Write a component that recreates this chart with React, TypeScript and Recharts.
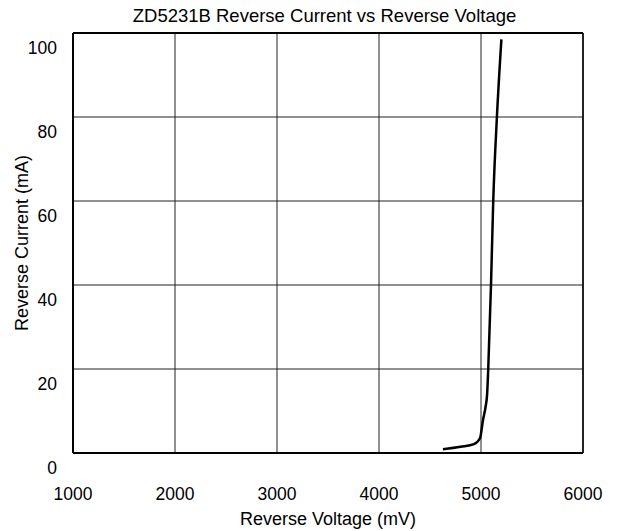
import { LineChart, Line, XAxis, YAxis, CartesianGrid, ReferenceLine } from 'recharts';

// reverse voltage (mV) vs reverse current (mA)
const voltage = [4627, 4800, 4931, 4990, 5020, 5045, 5060, 5071, 5098, 5120, 5156, 5200];
const current = [0.9, 1.5, 2.1, 3.5, 7.9, 11, 14, 20, 40, 60, 80, 98.5];

const xTicks = [1000, 2000, 3000, 4000, 5000, 6000];
const yTicks = [0, 20, 40, 60, 80, 100];

const data = voltage.map((v, i) => ({ v, i: current[i] }));

const FONT = '"Liberation Sans", Arial, sans-serif';

const YTick = ({ x, y, payload }: any) => (
  <text x={x} y={y + 15} textAnchor="end" dominantBaseline="central" fontSize={17.5} fontFamily={FONT} fill="#000">
    {payload.value}
  </text>
);

const XTick = ({ x, y, payload }: any) => (
  <text x={x} y={y + 41} textAnchor="middle" dominantBaseline="central" fontSize={17.5} fontFamily={FONT} fill="#000">
    {payload.value}
  </text>
);

const App = () => {
  return (
    <div style={{ position: 'relative', width: 625, height: 531, background: '#fff' }}>
      <style>{`body{margin:0}`}</style>
      <div
        style={{
          position: 'absolute',
          top: 7,
          left: 12,
          width: 625,
          textAlign: 'center',
          fontFamily: FONT,
          fontSize: 18.5,
          lineHeight: 1,
          color: '#000',
          whiteSpace: 'nowrap',
        }}
      >
        ZD5231B Reverse Current vs Reverse Voltage
      </div>
      <LineChart width={625} height={531} data={data} margin={{ top: 33, right: 42, bottom: 0, left: 13 }}>
        <CartesianGrid stroke="#222" strokeWidth={1} />
        <XAxis
          dataKey="v"
          type="number"
          domain={[1000, 6000]}
          ticks={xTicks}
          tick={<XTick />}
          tickSize={0}
          tickMargin={0}
          height={78}
          axisLine={{ stroke: '#000', strokeWidth: 2 }}
          label={{ value: 'Reverse Voltage (mV)', position: 'insideBottom', offset: 6, fontSize: 18, fontFamily: FONT, fill: '#000' }}
        />
        <YAxis
          type="number"
          domain={[0, 100]}
          ticks={yTicks}
          tick={<YTick />}
          tickSize={0}
          tickMargin={16}
          width={60}
          axisLine={{ stroke: '#000', strokeWidth: 2 }}
          label={{
            value: 'Reverse Current (mA)',
            angle: -90,
            position: 'insideLeft',
            offset: 9,
            fontSize: 18,
            fontFamily: FONT,
            fill: '#000',
            style: { textAnchor: 'middle' },
          }}
        />
        <ReferenceLine y={100} stroke="#000" strokeWidth={2} />
        <ReferenceLine x={6000} stroke="#000" strokeWidth={1.5} />
        <Line type="monotone" dataKey="i" stroke="#000" strokeWidth={2.5} dot={false} isAnimationActive={false} />
      </LineChart>
    </div>
  );
};

export default App;
